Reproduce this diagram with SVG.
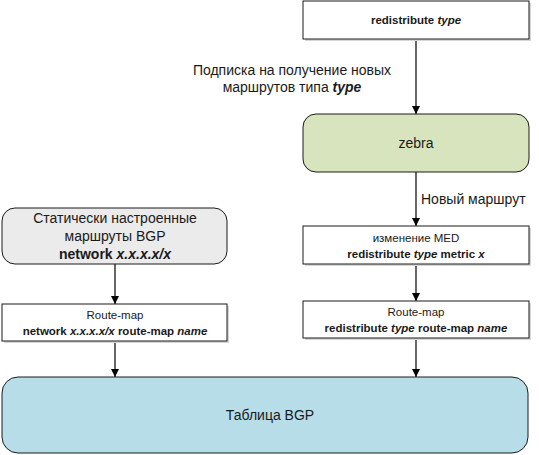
<svg xmlns="http://www.w3.org/2000/svg" width="539" height="455" viewBox="0 0 539 455">
<style>
text{font-family:"Liberation Sans",Arial,sans-serif;fill:#1a1a1a;text-anchor:middle}
.l{font-size:14px}
.s{font-size:11.5px}
.b{font-weight:bold}
.i{font-style:italic}
.box{stroke:#1a1a1a;stroke-width:1}
.sh{fill:#d6d6d6}
.edge{stroke:#000;stroke-width:1.2;fill:none;marker-end:url(#ah)}
</style>
<defs>
<marker id="ah" markerWidth="10" markerHeight="10" refX="8" refY="4" orient="auto" markerUnits="userSpaceOnUse">
<path d="M0,0 L8,4 L0,8 Z" fill="#000"/>
</marker>
</defs>
<rect width="539" height="455" fill="#fff"/>
<g id="connectors">
<line class="edge" x1="416" y1="40" x2="416" y2="114"/>
<line class="edge" x1="416" y1="172" x2="416" y2="226"/>
<line class="edge" x1="416" y1="264" x2="416" y2="301"/>
<line class="edge" x1="416" y1="338" x2="416" y2="377"/>
<line class="edge" x1="115" y1="264" x2="115" y2="304"/>
<line class="edge" x1="115" y1="341" x2="115" y2="377"/>
<text class="l" x="292" y="75">Подписка на получение новых</text>
<text class="l" x="292" y="92">маршрутов типа <tspan class="b i">type</tspan></text>
<text class="l" x="421" y="204" style="text-anchor:start">Новый маршрут</text>
</g>
<g id="n-redistribute">
<rect class="sh" x="305" y="3" width="226" height="38"/>
<rect class="box" x="303" y="1" width="226" height="38" fill="#fff"/>
<text class="s b" x="416" y="24">redistribute <tspan class="i">type</tspan></text>
</g>
<g id="n-zebra">
<rect class="box" x="303" y="114" width="226" height="58" rx="13" fill="#d7e4bd"/>
<text class="l" x="416" y="148">zebra</text>
</g>
<g id="n-med">
<rect class="sh" x="305" y="228" width="226" height="38"/>
<rect class="box" x="303" y="226" width="226" height="38" fill="#fff"/>
<text class="s" x="416" y="242">изменение MED</text>
<text class="s b" x="416" y="258">redistribute <tspan class="i">type</tspan> metric <tspan class="i">x</tspan></text>
</g>
<g id="n-routemap-right">
<rect class="sh" x="305" y="303" width="226" height="37"/>
<rect class="box" x="303" y="301" width="226" height="37" fill="#fff"/>
<text class="s" x="416" y="316">Route-map</text>
<text class="s b" x="416" y="332">redistribute <tspan class="i">type</tspan>  route-map <tspan class="i">name</tspan></text>
</g>
<g id="n-static">
<rect class="box" x="2" y="208" width="225" height="56" rx="13" fill="#ebebeb"/>
<text class="l" x="115" y="223">Статически настроенные</text>
<text class="l" x="115" y="241">маршруты BGP</text>
<text class="l b" x="115" y="259">network <tspan class="i">x.x.x.x/x</tspan></text>
</g>
<g id="n-routemap-left">
<rect class="sh" x="4" y="306" width="225" height="37"/>
<rect class="box" x="2" y="304" width="225" height="37" fill="#fff"/>
<text class="s" x="115" y="319">Route-map</text>
<text class="s b" x="115" y="335">network <tspan class="i">x.x.x.x/x</tspan> route-map <tspan class="i">name</tspan></text>
</g>
<g id="n-bgp">
<rect class="box" x="2" y="377" width="526" height="76" rx="16" fill="#b7dde8"/>
<text class="l" x="270" y="420">Таблица BGP</text>
</g>
</svg>
